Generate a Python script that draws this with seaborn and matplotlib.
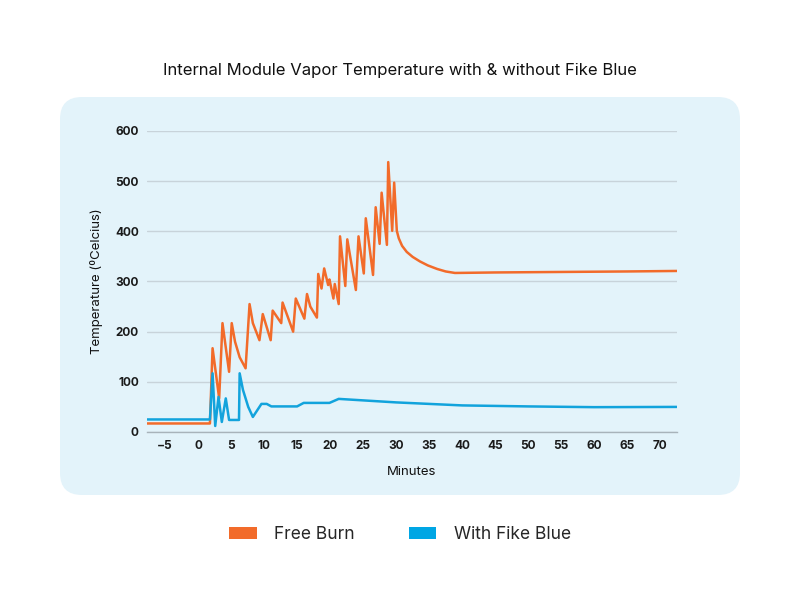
import pandas as pd
import numpy as np
import matplotlib
matplotlib.use("Agg")
import matplotlib.pyplot as plt
import seaborn as sns
from matplotlib.patches import FancyBboxPatch, Patch

# valores
free_burn_min = [-7.7, 1.8, 2.2, 3.2, 3.7, 4.7, 5.1, 5.6, 6.3, 7.2, 7.8, 8.3, 9.3, 9.8,
                 11.0, 11.3, 12.6, 12.8, 14.4, 14.8, 16.1, 16.5, 17.0, 18.0, 18.2, 18.7,
                 19.1, 19.7, 19.9, 20.5, 20.7, 21.3, 21.5, 22.3, 22.6, 23.9, 24.3, 25.1,
                 25.4, 26.5, 26.9, 27.5, 27.8, 28.6, 28.8, 29.4, 29.7, 30.1, 30.4, 30.9,
                 31.6, 32.5, 33.6, 34.8, 36.2, 37.5, 38.9, 45, 55, 65, 72.5]
free_burn_temp = [17, 17, 167, 67, 217, 120, 217, 180, 149, 127, 255, 217, 183, 235,
                  183, 242, 217, 258, 200, 266, 226, 275, 250, 228, 315, 286,
                  326, 293, 304, 266, 295, 255, 390, 291, 384, 283, 390, 316,
                  426, 313, 448, 375, 477, 373, 538, 401, 497, 401, 386, 371,
                  359, 349, 340, 332, 325, 320, 317, 318, 319, 320, 321]

fike_min = [-7.7, 1.8, 2.2, 2.6, 3.1, 3.6, 4.2, 4.7, 6.2, 6.3, 6.8, 7.6, 8.3, 9.6,
            10.4, 11.1, 15.0, 16.0, 19.9, 21.3, 30, 40, 50, 60, 72.5]
fike_temp = [25, 25, 117, 12, 70, 20, 67, 24, 24, 117, 84, 50, 30, 56,
             56, 51, 51, 58, 58, 66, 59, 53, 51, 49.5, 50]

x_ticks = list(range(-5, 75, 5))
y_ticks = list(range(0, 700, 100))

orange = "#f26b2a"
blue = "#12a3dc"

df_burn = pd.DataFrame({"Minutes": free_burn_min, "Temp": free_burn_temp})
df_fike = pd.DataFrame({"Minutes": fike_min, "Temp": fike_temp})

sns.set_style("white")
plt.rcParams["font.family"] = ["Inter", "DejaVu Sans"]

fig = plt.figure(figsize=(8, 6), dpi=100)
fig.patch.set_facecolor("white")

# panel de fondo redondeado
panel = FancyBboxPatch((0.6, 1.05), 6.8, 3.98,
                       boxstyle="round,pad=0,rounding_size=0.22",
                       transform=fig.dpi_scale_trans, facecolor="#e3f3fa",
                       edgecolor="none", zorder=-5)
fig.patches.append(panel)

ax = fig.add_axes([0.184, 0.28, 0.662, 0.5017])
ax.set_facecolor("none")
ax.set_zorder(2)

sns.lineplot(data=df_burn, x="Minutes", y="Temp", color=orange, linewidth=1.8,
             estimator=None, ax=ax, zorder=3)
sns.lineplot(data=df_fike, x="Minutes", y="Temp", color=blue, linewidth=1.8,
             estimator=None, ax=ax, zorder=3)

ax.set_xlim(-7.7, 72.5)
ax.set_ylim(0, 600)
ax.set_xticks(x_ticks)
ax.set_yticks(y_ticks)
ax.set_xticklabels(["\u2212" + str(-t) if t < 0 else str(t) for t in x_ticks])
ax.tick_params(axis="both", length=0, labelsize=8.5, pad=6)
for lab in ax.get_xticklabels() + ax.get_yticklabels():
    lab.set_fontweight("bold")
    lab.set_color("#1a1a1a")

ax.yaxis.grid(True, color="#c8d3da", linewidth=1)
ax.set_axisbelow(True)
for s in ["top", "right", "left"]:
    ax.spines[s].set_visible(False)
ax.spines["bottom"].set_color("#a8b3ba")
ax.spines["bottom"].set_linewidth(1)

ax.set_xlabel("Minutes", fontsize=9.5, labelpad=10, color="#111111")
ax.set_ylabel("Temperature (ºCelcius)", fontsize=9.5, labelpad=9, color="#111111")

fig.text(0.5, 0.883, "Internal Module Vapor Temperature with & without Fike Blue",
         ha="center", va="center", fontsize=12, color="#111111")

handles = [Patch(facecolor=orange, edgecolor="none", label="Free Burn"),
           Patch(facecolor="#00a6e4", edgecolor="none", label="With Fike Blue")]
fig.legend(handles=handles, loc="center", bbox_to_anchor=(0.5, 0.109), ncol=2,
           frameon=False, fontsize=12.5, handlelength=1.6, handleheight=0.65,
           handletextpad=1.0, columnspacing=3.1)

fig.savefig("out.png", dpi=100)
